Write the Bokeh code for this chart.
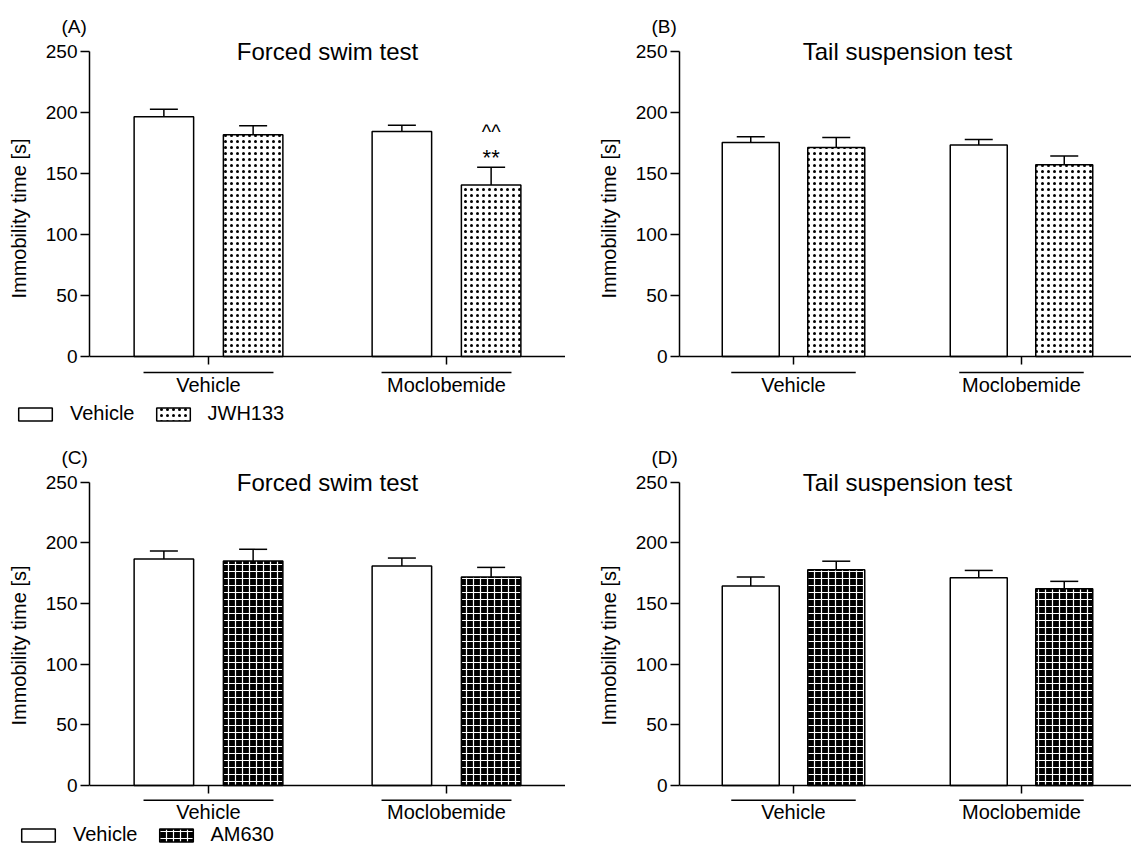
from bokeh.plotting import figure
from bokeh.models import (Range1d, FixedTicker, ColumnDataSource, Whisker, TeeHead,
                          Legend, LegendItem)
from bokeh.layouts import column, row
from bokeh.core.properties import value
from bokeh.embed import file_html
from bokeh.resources import INLINE

# ---------------- data ----------------
groups = ["Vehicle", "Moclobemide"]
treat_jwh = ["Vehicle", "JWH133"]
treat_am = ["Vehicle", "AM630"]
y_ticks = [0, 50, 100, 150, 200, 250]
titles = ["Forced swim test", "Tail suspension test", "Forced swim test", "Tail suspension test"]
letters = ["(A)", "(B)", "(C)", "(D)"]

# order of bars: Vehicle/Vehicle, Vehicle/drug, Moclobemide/Vehicle, Moclobemide/drug
a_mean = [196.2, 181.5, 184.2, 140.5]
a_sem = [6.3, 7.5, 5.1, 14.4]
b_mean = [175.3, 171.2, 173.1, 157.1]
b_sem = [4.6, 8.1, 4.6, 7.0]
c_mean = [186.6, 185.0, 180.8, 171.7]
c_sem = [6.7, 9.6, 6.6, 8.0]
d_mean = [164.4, 177.7, 171.2, 162.2]
d_sem = [7.3, 7.1, 6.0, 6.0]
a_signif = ["**", "^^"]   # above Moclobemide + JWH133 bar

FONT = "Liberation Sans"
GROUP_X = [1, 2]
BAR_OFF = 0.1875
BAR_W = 0.25
UL_HALF = 0.273

VEH_STYLE = dict(fill_color="white", line_color="black", line_width=1.5)
DOTS = dict(fill_color="white", line_color="black", line_width=1.5, hatch_pattern="dot",
            hatch_color="black", hatch_scale=6, hatch_weight=1.0)
CHECKS = dict(fill_color="black", line_color="black", line_width=1.5, hatch_pattern="cross",
              hatch_color="white", hatch_scale=7, hatch_weight=1.2)


def panel(letter, title, means, sems, drug_style, width, height, bl, bt, xr, yr,
          tick_px, ul_px, label_px, signif=None):
    p = figure(width=width, height=height, x_range=Range1d(*xr), y_range=Range1d(*yr),
               x_axis_location=None, toolbar_location=None, output_backend="svg",
               min_border_left=bl, min_border_right=0, min_border_top=bt,
               min_border_bottom=0, outline_line_color=None, title=letter)
    p.grid.visible = False
    p.title.align = "left"
    p.title.offset = -28
    p.title.standoff = 0
    p.title.text_font = FONT
    p.title.text_font_size = "19px"
    p.title.text_font_style = "normal"
    p.title.text_color = "black"

    ax = p.yaxis[0]
    ax.ticker = FixedTicker(ticks=y_ticks)
    ax.bounds = (y_ticks[0], y_ticks[-1])
    ax.axis_label = "Immobility time [s]"
    ax.axis_label_text_font = FONT
    ax.axis_label_text_font_size = "20px"
    ax.axis_label_text_font_style = "normal"
    ax.axis_label_text_color = "black"
    ax.axis_label_standoff = 13
    ax.major_label_text_font = FONT
    ax.major_label_text_font_size = "19px"
    ax.major_label_text_color = "black"
    ax.major_label_standoff = 3
    ax.major_tick_in = 0
    ax.major_tick_out = 9
    ax.minor_tick_line_color = None
    ax.axis_line_width = 1.5
    ax.major_tick_line_width = 1.5
    ax.axis_line_color = "black"
    ax.major_tick_line_color = "black"

    k = (height - bt) / (yr[1] - yr[0])   # pixels per data unit

    xs_v = [g - BAR_OFF for g in GROUP_X]
    xs_d = [g + BAR_OFF for g in GROUP_X]
    p.vbar(x=xs_v, top=[means[0], means[2]], bottom=0, width=BAR_W, **VEH_STYLE)
    p.vbar(x=xs_d, top=[means[1], means[3]], bottom=0, width=BAR_W, **drug_style)

    xs = [xs_v[0], xs_d[0], xs_v[1], xs_d[1]]
    src = ColumnDataSource(dict(x=xs, mean=means,
                                upper=[m + s for m, s in zip(means, sems)]))
    p.add_layout(Whisker(source=src, base="x", lower="mean", upper="upper",
                         dimension="height", line_color="black", line_width=1.5,
                         lower_head=None,
                         upper_head=TeeHead(size=28, line_color="black", line_width=1.5)))

    # x baseline, group ticks, group underlines and group labels
    p.segment(x0=[xr[0]], y0=[0], x1=[xr[1]], y1=[0], line_color="black", line_width=1.5)
    p.segment(x0=GROUP_X, y0=[0, 0], x1=GROUP_X, y1=[-tick_px / k] * 2,
              line_color="black", line_width=1.5)
    p.segment(x0=[g - UL_HALF for g in GROUP_X], y0=[-ul_px / k] * 2,
              x1=[g + UL_HALF for g in GROUP_X], y1=[-ul_px / k] * 2,
              line_color="black", line_width=1.5)
    p.text(x=GROUP_X, y=[-label_px / k] * 2, text=groups, text_align="center",
           text_baseline="middle", text_font=value(FONT), text_font_size="20px",
           text_color="black")

    p.text(x=[(GROUP_X[0] + GROUP_X[1]) / 2], y=[y_ticks[-1]], text=[title],
           text_align="center", text_baseline="middle", text_font=value(FONT),
           text_font_size="24px", text_color="black")

    if signif:
        up = means[3] + sems[3]
        p.text(x=[xs_d[1]], y=[up + 9.9 / k], text=[signif[0]], text_align="center",
               text_baseline="middle", text_font=value(FONT), text_font_size="22px",
               text_color="black")
        p.text(x=[xs_d[1]], y=[up + 34.9 / k], text=[signif[1]], text_align="center",
               text_baseline="middle", text_font=value(FONT), text_font_size="20px",
               text_color="black")
    return p


def legend_strip(treatments, drug_style, width, height, loc):
    p = figure(width=width, height=height, x_range=Range1d(0, 1), y_range=Range1d(0, 1),
               x_axis_location=None, y_axis_location=None, toolbar_location=None,
               output_backend="svg", min_border=0, outline_line_color=None)
    p.grid.visible = False
    # zero-size swatch renderers: only their legend glyphs are visible
    rv = p.vbar(x=[0], top=[0], bottom=[0], width=0, **VEH_STYLE)
    rd = p.vbar(x=[0], top=[0], bottom=[0], width=0, **drug_style)
    lg = Legend(items=[LegendItem(label=treatments[0], renderers=[rv]),
                       LegendItem(label=treatments[1], renderers=[rd])],
                orientation="horizontal", location=loc,
                glyph_width=42, glyph_height=16, label_standoff=14, spacing=17,
                padding=0, margin=0, border_line_color=None, background_fill_alpha=0,
                label_text_font=FONT, label_text_font_size="20px",
                label_text_color="black")
    p.add_layout(lg)
    return p


# layout (pixels); the page is drawn from the window's top-left corner
W_L, W_R = 565, 566
H1, H2 = 400, 396
XR_L = (0.5, 2.5)
XR_R = (0.5, 0.5 + 452 / 228)
YR1 = (-36, 262)
YR2 = (-31.3, 262)

pa = panel(letters[0], titles[0], a_mean, a_sem, DOTS, W_L, H1, 89, 36, XR_L, YR1,
           8, 16, 28.5, signif=a_signif)
pb = panel(letters[1], titles[1], b_mean, b_sem, DOTS, W_R, H1, 114, 36, XR_R, YR1,
           8, 16, 28.5)
pc = panel(letters[2], titles[2], c_mean, c_sem, CHECKS, W_L, H2, 89, 40, XR_L, YR2,
           8, 14.7, 26.5)
pd = panel(letters[3], titles[3], d_mean, d_sem, CHECKS, W_R, H2, 114, 40, XR_R, YR2,
           8, 14.7, 26.5)
la = legend_strip(treat_jwh, DOTS, W_L, 27, (14, 2))
lc = legend_strip(treat_am, CHECKS, W_L, 22, (17, -1))

layout = column(row(pa, pb), la, row(pc, pd), lc)
open("out.html", "w").write(file_html(layout, INLINE))
